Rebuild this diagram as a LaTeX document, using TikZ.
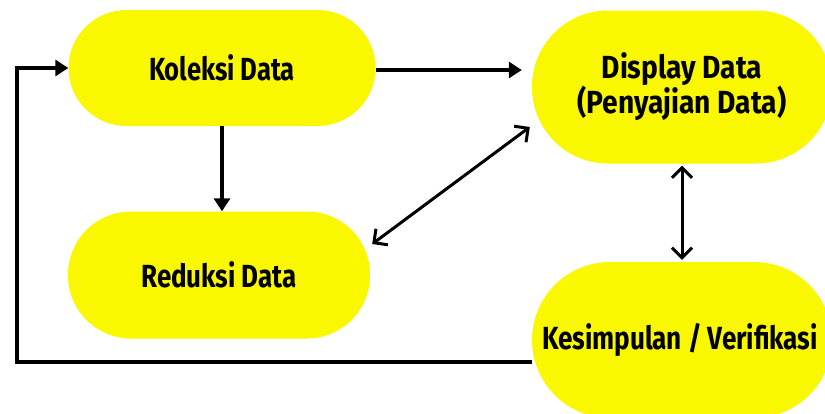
\documentclass[tikz,border=0pt]{standalone}
\usepackage{fontspec}
\setmainfont{Fira Sans}
\usetikzlibrary{arrows.meta,calc}
\definecolor{boxyellow}{RGB}{250,248,0}
\tikzset{
  stadium/.style={fill=boxyellow, draw=none, rounded corners=#1, inner sep=0pt, font=\fontsize{32}{35}\selectfont\bfseries, align=center},
  label/.style={font=\fontsize{32}{35}\selectfont\bfseries, inner sep=0pt},
  flow/.style={line width=4pt, -{Triangle[length=13pt,width=16pt]}},
  link/.style={line width=3pt, {Straight Barb[length=10pt,width=20pt,line width=3pt]}-{Straight Barb[length=10pt,width=20pt,line width=3pt]}},
  loop/.style={line width=4pt}
}
\begin{document}
\begin{tikzpicture}[x=1pt,y=-1pt]
\useasboundingbox (0,0) rectangle (825,413);
\clip (0,0) rectangle (825,413);
\fill[white] (0,0) rectangle (825,413);
\node[stadium=58pt, minimum width=307pt, minimum height=116pt] (koleksi) at (222,68) {\scalebox{0.8}[1]{Koleksi Data}};
\node[stadium=63pt, minimum width=302pt, minimum height=127pt] (reduksi) at (219,275) {\scalebox{0.81}[1]{Reduksi Data}};
\node[stadium=76pt, minimum width=300pt, minimum height=153pt] (display) at (682,87) {\scalebox{0.88}[1]{Display Data}\\\scalebox{0.88}[1]{(Penyajian Data)}};
\node[stadium=78pt, minimum width=300pt, minimum height=156pt] (kesimpulan) at (682,340) {};
\node[label] (kestext) at (680,340) {\scalebox{0.815}[1]{Kesimpulan / Verifikasi}};
\coordinate (fb) at (17,362);
\draw[flow] (koleksi.east |- 0,70) -- ([xshift=-10pt]display.west |- 0,70);
\draw[flow] (koleksi.south) -- (koleksi.south |- reduksi.north);
\draw[link] ([xshift=2pt,yshift=31pt]reduksi.east) -- ([xshift=-2pt,yshift=-40pt]display.west);
\draw[link] ([yshift=-2pt]display.south) -- ([yshift=2pt]display.south |- kesimpulan.north);
\draw[loop] (kesimpulan.west |- fb) -- (fb) -- (fb |- koleksi.west);
\draw[flow] ([xshift=-2pt]fb |- koleksi.west) -- (koleksi.west);
\end{tikzpicture}
\end{document}
